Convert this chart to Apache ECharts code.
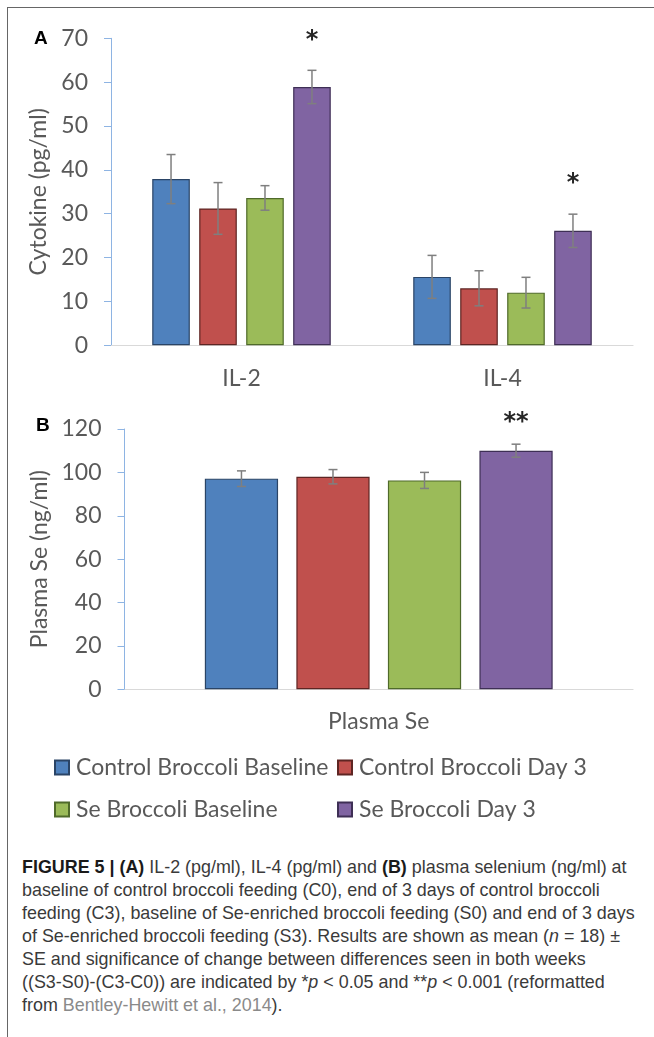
<!DOCTYPE html>
<html><head><meta charset="utf-8">
<script src="https://cdn.jsdelivr.net/npm/echarts@6/dist/echarts.min.js"></script>
<style>
html,body{margin:0;padding:0;background:#fff;}
#wrap{position:relative;width:654px;height:1037px;overflow:hidden;background:#fff;}
#frame{position:absolute;left:7px;top:7px;width:720px;height:1100px;border-top:1.5px solid #666;border-left:1.5px solid #666;}
#chart{position:absolute;left:0;top:0;width:654px;height:850px;}
#caption{position:absolute;left:22px;top:856px;font-family:"Liberation Sans",Arial,sans-serif;font-size:17.9px;line-height:23px;color:#3a3a3a;white-space:nowrap;}
#caption b{color:#1a1a1a;}
#caption .ref{color:#8a8a8a;}
</style></head>
<body>
<div id="wrap">
<div id="frame"></div>
<div id="chart"></div>
<div id="caption"><b>FIGURE 5 | (A)</b> IL-2 (pg/ml), IL-4 (pg/ml) and <b>(B)</b> plasma selenium (ng/ml) at<br>baseline of control broccoli feeding (C0), end of 3 days of control broccoli<br>feeding (C3), baseline of Se-enriched broccoli feeding (S0) and end of 3 days<br>of Se-enriched broccoli feeding (S3). Results are shown as mean (<i>n</i> = 18) ±<br>SE and significance of change between differences seen in both weeks<br>((S3-S0)-(C3-C0)) are indicated by *<i>p</i> &lt; 0.05 and **<i>p</i> &lt; 0.001 (reformatted<br>from <span class="ref">Bentley-Hewitt et al., 2014</span>).</div>
</div>
<script>
// ---------- data ----------
const seriesNames = ['Control Broccoli Baseline', 'Control Broccoli Day 3', 'Se Broccoli Baseline', 'Se Broccoli Day 3'];

const cytokineCategories = ['IL-2', 'IL-4'];
const cytokineMeans = [[37.9, 15.6], [31.2, 13.0], [33.6, 12.0], [58.9, 26.1]];
const cytokineSE    = [[5.6, 4.9],   [5.9, 4.0],   [2.8, 3.5],   [3.8, 3.8]];
const cytokineSig   = [['', ''], ['', ''], ['', ''], ['*', '*']];
const cytokineAxisMax = 70;
const cytokineAxisStep = 10;

const plasmaCategories = ['Plasma Se'];
const plasmaMeans = [[97.1], [98.0], [96.3], [110.0]];
const plasmaSE    = [[3.6], [3.3], [3.7], [3.0]];
const plasmaSig   = [[''], [''], [''], ['**']];
const plasmaAxisMax = 120;
const plasmaAxisStep = 20;

// ---------- styles ----------
const COLORS = ['#4f81bd', '#c0504d', '#9bbb59', '#8064a2'];
const BORDERS = ['#2a4466', '#5e2523', '#4f6a2a', '#3e2f55'];
const F = 'Lato, "Open Sans", sans-serif';
const TXT = '#595959';
const BW = 0.144, GAP = 0.25;

const chart = echarts.init(document.getElementById('chart'), null, {renderer: 'canvas'});

function errSeries(name, xi, means, ses, sigs, starOffset) {
  const data = [];
  means.forEach((arr, s) => arr.forEach((m, c) => data.push([c, m, ses[s][c], s])));
  return {
    type: 'custom', name: name, xAxisIndex: xi, yAxisIndex: xi, z: 10,
    encode: {x: 0, y: 1},
    data: data,
    renderItem: function (params, api) {
      const c = api.value(0), m = api.value(1), se = api.value(2), s = api.value(3);
      const band = api.size([1, 0])[0];
      const bw = band * BW, gap = bw * GAP;
      const cx = api.coord([c, 0])[0] + (s - 1.5) * (bw + gap);
      const yt = api.coord([c, m + se])[1], yb = api.coord([c, m - se])[1];
      const hw = 4.5;
      const st = {stroke: '#7f7f7f', lineWidth: 1.5};
      const children = [
        {type: 'line', shape: {x1: cx, y1: yt, x2: cx, y2: yb}, style: st},
        {type: 'line', shape: {x1: cx - hw, y1: yt, x2: cx + hw, y2: yt}, style: st},
        {type: 'line', shape: {x1: cx - hw, y1: yb, x2: cx + hw, y2: yb}, style: st}
      ];
      const sig = sigs[s][c];
      if (sig) {
        children.push({type: 'text', style: {text: sig, x: cx, y: yt - starOffset, align: 'center', verticalAlign: 'middle',
          fontSize: 24, fontWeight: 'bold', fontFamily: 'DejaVu Sans, sans-serif', fill: '#262626'}});
      }
      return {type: 'group', children: children};
    }
  };
}

const series = [];
seriesNames.forEach((n, i) => {
  series.push({type: 'bar', name: n, xAxisIndex: 0, yAxisIndex: 0, data: cytokineMeans[i],
    barWidth: (BW * 100) + '%', barGap: (GAP * 100) + '%',
    itemStyle: {color: COLORS[i], borderColor: BORDERS[i], borderWidth: 1.2}});
});
seriesNames.forEach((n, i) => {
  series.push({type: 'bar', name: n, xAxisIndex: 1, yAxisIndex: 1, data: plasmaMeans[i],
    barWidth: (BW * 100) + '%', barGap: (GAP * 100) + '%',
    itemStyle: {color: COLORS[i], borderColor: BORDERS[i], borderWidth: 1.2}});
});
series.push(errSeries('errA', 0, cytokineMeans, cytokineSE, cytokineSig, 30));
series.push(errSeries('errB', 1, plasmaMeans, plasmaSE, plasmaSig, 21));

function yAx(gi, max, step, name, gapName) {
  return {
    type: 'value', gridIndex: gi, min: 0, max: max, interval: step,
    name: name, nameLocation: 'middle', nameRotate: 90, nameGap: gapName,
    nameTextStyle: {fontSize: 23, color: TXT, fontFamily: F},
    axisLine: {show: true, lineStyle: {color: '#8eb4e3', width: 1}},
    axisTick: {show: true, length: 7, lineStyle: {color: '#8eb4e3'}},
    splitLine: {show: false},
    axisLabel: {fontSize: 23, color: TXT, fontFamily: F, margin: 23}
  };
}
function xAx(gi, cats, margin) {
  return {
    type: 'category', gridIndex: gi, data: cats,
    axisLine: {show: true, lineStyle: {color: '#d9d9d9', width: 1.2}},
    axisTick: {show: false},
    axisLabel: {fontSize: 23, color: TXT, fontFamily: F, margin: margin}
  };
}

const legends = seriesNames.map((n, i) => ({
  data: [n], left: (i % 2) ? 337 : 54, top: i < 2 ? 756 : 798, padding: 0,
  icon: 'rect', itemWidth: 14, itemHeight: 14, itemGap: 0, selectedMode: false,
  textStyle: {fontSize: 23, color: TXT, fontFamily: F, padding: [0, 0, 0, 2]}
}));

chart.setOption({
  animation: false,
  backgroundColor: 'transparent',
  grid: [
    {left: 111, top: 38.3, width: 522, height: 307, outerBoundsMode: 'none', containLabel: false},
    {left: 124.5, top: 429, width: 508.5, height: 260.3, outerBoundsMode: 'none', containLabel: false}
  ],
  xAxis: [xAx(0, cytokineCategories, 22), xAx(1, plasmaCategories, 21)],
  yAxis: [yAx(0, cytokineAxisMax, cytokineAxisStep, 'Cytokine (pg/ml)', 52), yAx(1, plasmaAxisMax, plasmaAxisStep, 'Plasma Se (ng/ml)', 66)],
  legend: legends,
  graphic: [
    {type: 'text', left: 34, top: 29, style: {text: 'A', fontSize: 19, fontWeight: 'bold', fontFamily: 'Liberation Sans, Arial, sans-serif', fill: '#000'}},
    {type: 'text', left: 36, top: 416, style: {text: 'B', fontSize: 19, fontWeight: 'bold', fontFamily: 'Liberation Sans, Arial, sans-serif', fill: '#000'}}
  ],
  series: series
});
</script>
</body></html>
